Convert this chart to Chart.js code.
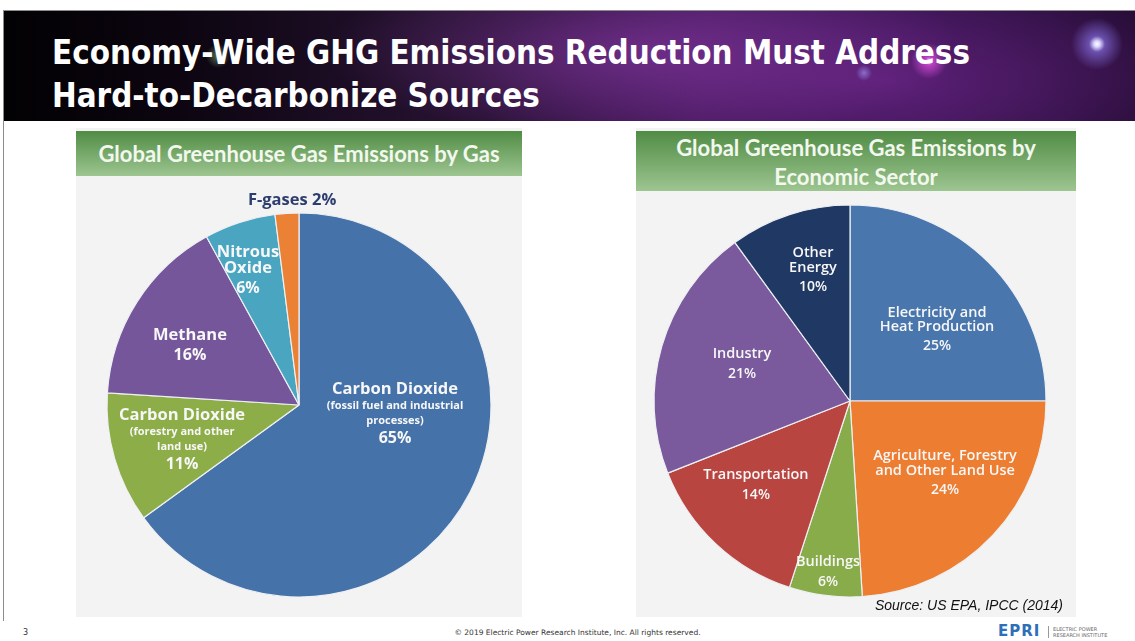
<!DOCTYPE html>
<html>
<head>
<meta charset="utf-8">
<script src="https://cdn.jsdelivr.net/npm/chart.js"></script>
<style>
  html, body { margin: 0; padding: 0; background: #fff; }
  #slide { position: relative; width: 1135px; height: 641px; overflow: hidden; font-family: "Open Sans", sans-serif; }
  #frame { position: absolute; left: 3px; top: 10px; width: 1140px; height: 610px;
           border-left: 1px solid #8c8c8c; border-top: 1px solid #8c8c8c; }
  #banner { position: absolute; left: 4px; top: 11px; width: 1131px; height: 110px;
    background:
      radial-gradient(circle at 1093px 33px, #ffffff 0, #dcd6ff 3px, rgba(150,130,255,0.55) 8px, rgba(120,90,220,0) 26px),
      radial-gradient(circle at 925px 50px, #ffd6ff 0, rgba(230,80,230,0.7) 4px, rgba(200,40,200,0) 18px),
      radial-gradient(circle at 214px 45px, rgba(150,220,140,0.5) 0, rgba(100,150,100,0) 12px),
      radial-gradient(circle at 860px 62px, rgba(160,160,255,0.6) 0, rgba(100,100,255,0) 8px),
      radial-gradient(ellipse 320px 90px at 640px 40px, rgba(140,60,170,0.55), rgba(90,30,120,0) 100%),
      radial-gradient(ellipse 420px 120px at 880px 70px, rgba(120,40,150,0.6), rgba(60,15,80,0) 100%),
      linear-gradient(90deg, #020103 0%, #0c0510 15%, #24112e 38%, #3b1650 62%, #32124a 80%, #1d0a2c 100%);
  }
  .title { position: absolute; left: 52px; color: #fff; white-space: nowrap; transform-origin: 0 0;
           font: bold 34px/34px "Liberation Sans Narrow", "DejaVu Sans Condensed", sans-serif; }
  .panel { position: absolute; background: #f3f3f3; }
  .head { position: absolute; background: linear-gradient(#508c45, #9dc590); color: #f3f8ee;
          font: bold 22px Lato, sans-serif; text-align: center; }
  canvas { position: absolute; }
  #source { position: absolute; right: 72px; top: 597px; font: italic 14px "Liberation Sans", sans-serif; color: #111; }
  #pageno { position: absolute; left: 23px; top: 628px; font: 8px "DejaVu Sans", sans-serif; color: #333; }
  #copy { position: absolute; left: 0; width: 1155px; top: 628px; text-align: center; font: 7.5px "DejaVu Sans", sans-serif; color: #333; }
  #logo { position: absolute; left: 998px; top: 624px; font: bold 15px/15px "DejaVu Sans", sans-serif; color: #2f6fb7; letter-spacing: 1px; }
  #logotext { position: absolute; left: 1048px; top: 626px; padding-left: 4px; border-left: 1px solid #999;
              font: 5px/6px "DejaVu Sans", sans-serif; color: #666; }
</style>
</head>
<body>
<div id="slide">
  <div id="frame"></div>
  <div id="banner"></div>
  <div class="title" id="t1" style="top:35px">Economy-Wide GHG Emissions Reduction Must Address</div>
  <div class="title" id="t2" style="top:78px">Hard-to-Decarbonize Sources</div>

  <div class="panel" style="left:76px; top:128px; width:446px; height:489px;"></div>
  <div class="head" style="left:76px; top:131px; width:446px; height:45px; line-height:45px;">Global Greenhouse Gas Emissions by Gas</div>
  <canvas id="gasChart" width="446" height="441" style="left:76px; top:176px;"></canvas>

  <div class="panel" style="left:636px; top:128px; width:440px; height:489px;"></div>
  <div class="head" style="left:636px; top:131px; width:440px; height:60px; line-height:29px; padding-top:2px; box-sizing:border-box;">Global Greenhouse Gas Emissions by<br>Economic Sector</div>
  <canvas id="sectorChart" width="440" height="425" style="left:636px; top:192px;"></canvas>
  <div id="source">Source: US EPA, IPCC (2014)</div>

  <div id="pageno">3</div>
  <div id="copy">© 2019 Electric Power Research Institute, Inc. All rights reserved.</div>
  <div id="logo">EPRI</div>
  <div id="logotext">ELECTRIC POWER<br>RESEARCH INSTITUTE</div>
</div>

<script>
// Emissions by gas (share of total, %)
const gasNames = [['Carbon Dioxide'], ['Carbon Dioxide'], ['Methane'], ['Nitrous', 'Oxide'], ['F-gases']];
const gasNotes = [['(fossil fuel and industrial', 'processes)'], ['(forestry and other', 'land use)'], [], [], []];
const gasShares = [65, 11, 16, 6, 2];
const gasColors = ['#4672aa', '#8dad49', '#75569a', '#4aa5c1', '#eb8135'];

// Emissions by economic sector (share of total, %)
const sectorNames = [['Electricity and', 'Heat Production'], ['Agriculture, Forestry', 'and Other Land Use'],
                     ['Buildings'], ['Transportation'], ['Industry'], ['Other', 'Energy']];
const sectorShares = [25, 24, 6, 14, 21, 10];
const sectorColors = ['#4a76ae', '#ed7d31', '#88ac4a', '#b94541', '#7a5a9c', '#1f3864'];

// squeeze the title so the first line spans its full width
const t1 = document.getElementById('t1');
const sx = 918 / t1.getBoundingClientRect().width;
['t1', 't2'].forEach(id => { document.getElementById(id).style.transform = `scaleX(${sx})`; });

// draws the stacked text labels on each slice; spot = label centre in units of the radius
const sliceLabels = {
  id: 'sliceLabels',
  afterDatasetsDraw(chart, args, opts) {
    const { ctx } = chart;
    const meta = chart.getDatasetMeta(0);
    const values = chart.data.datasets[0].data;
    ctx.save();
    ctx.textAlign = 'center';
    ctx.textBaseline = 'middle';
    meta.data.forEach((arc, i) => {
      const spot = opts.spots[i];
      const cx = arc.x + spot[0] * arc.outerRadius;
      const cy = arc.y + spot[1] * arc.outerRadius;
      if (spot[2]) {
        // single line sitting outside the pie
        ctx.font = opts.nameFont;
        ctx.fillStyle = spot[2];
        ctx.fillText(opts.names[i].join(' ') + ' ' + values[i] + '%', cx, cy);
        return;
      }
      const lines = [];
      opts.names[i].forEach(t => lines.push({ t, kind: 'name', font: opts.nameFont }));
      (opts.notes[i] || []).forEach(t => lines.push({ t, kind: 'note', font: opts.noteFont }));
      lines.push({ t: values[i] + '%', kind: 'value', font: opts.valueFont });
      let y = 0;
      lines.forEach((ln, k) => {
        if (k > 0) {
          const prev = lines[k - 1].kind;
          y += opts.gaps[prev + '-' + ln.kind];
        }
        ln.y = y;
      });
      const shift = y / 2;
      ctx.fillStyle = opts.color;
      lines.forEach(ln => {
        ctx.font = ln.font;
        ctx.fillText(ln.t, cx, cy - shift + ln.y);
      });
    });
    ctx.restore();
  }
};

const gasCanvas = document.getElementById('gasChart').getContext('2d');
new Chart(gasCanvas, {
  type: 'pie',
  data: {
    labels: gasNames.map(n => n.join(' ')),
    datasets: [{
      data: gasShares,
      backgroundColor: gasColors,
      borderColor: '#eef0f3',
      borderWidth: 1.2,
      radius: 192
    }]
  },
  options: {
    responsive: false,
    animation: false,
    events: [],
    layout: { padding: { left: 31, right: 31, top: 37, bottom: 20 } },
    plugins: {
      legend: { display: false },
      tooltip: { enabled: false },
      sliceLabels: {
        names: gasNames,
        notes: gasNotes,
        spots: [[0.50, 0.047], [-0.609, 0.18], [-0.568, -0.31], [-0.266, -0.70], [-0.036, -1.068, '#2d3e6e']],
        color: '#f7f7f7',
        nameFont: 'bold 16.5px "Open Sans"',
        noteFont: 'bold 11px "Open Sans"',
        valueFont: 'bold 16px "Open Sans"',
        gaps: { 'name-name': 16, 'name-note': 17, 'note-note': 15, 'name-value': 20, 'note-value': 17.5 }
      }
    }
  },
  plugins: [sliceLabels]
});

const sectorCanvas = document.getElementById('sectorChart').getContext('2d');
new Chart(sectorCanvas, {
  type: 'pie',
  data: {
    labels: sectorNames.map(n => n.join(' ')),
    datasets: [{
      data: sectorShares,
      backgroundColor: sectorColors,
      borderColor: '#eef0f3',
      borderWidth: 1.2,
      radius: 196
    }]
  },
  options: {
    responsive: false,
    animation: false,
    events: [],
    layout: { padding: { left: 18, right: 30, top: 13, bottom: 20 } },
    plugins: {
      legend: { display: false },
      tooltip: { enabled: false },
      sliceLabels: {
        names: sectorNames,
        notes: [],
        spots: [[0.444, -0.365], [0.485, 0.367], [-0.112, 0.872], [-0.480, 0.429], [-0.551, -0.189], [-0.189, -0.668]],
        color: '#f7f7f7',
        nameFont: '600 14.5px "Open Sans"',
        noteFont: '600 11px "Open Sans"',
        valueFont: '600 14px "Open Sans"',
        gaps: { 'name-name': 14.5, 'name-value': 19.5 }
      }
    }
  },
  plugins: [sliceLabels]
});
</script>
</body>
</html>
